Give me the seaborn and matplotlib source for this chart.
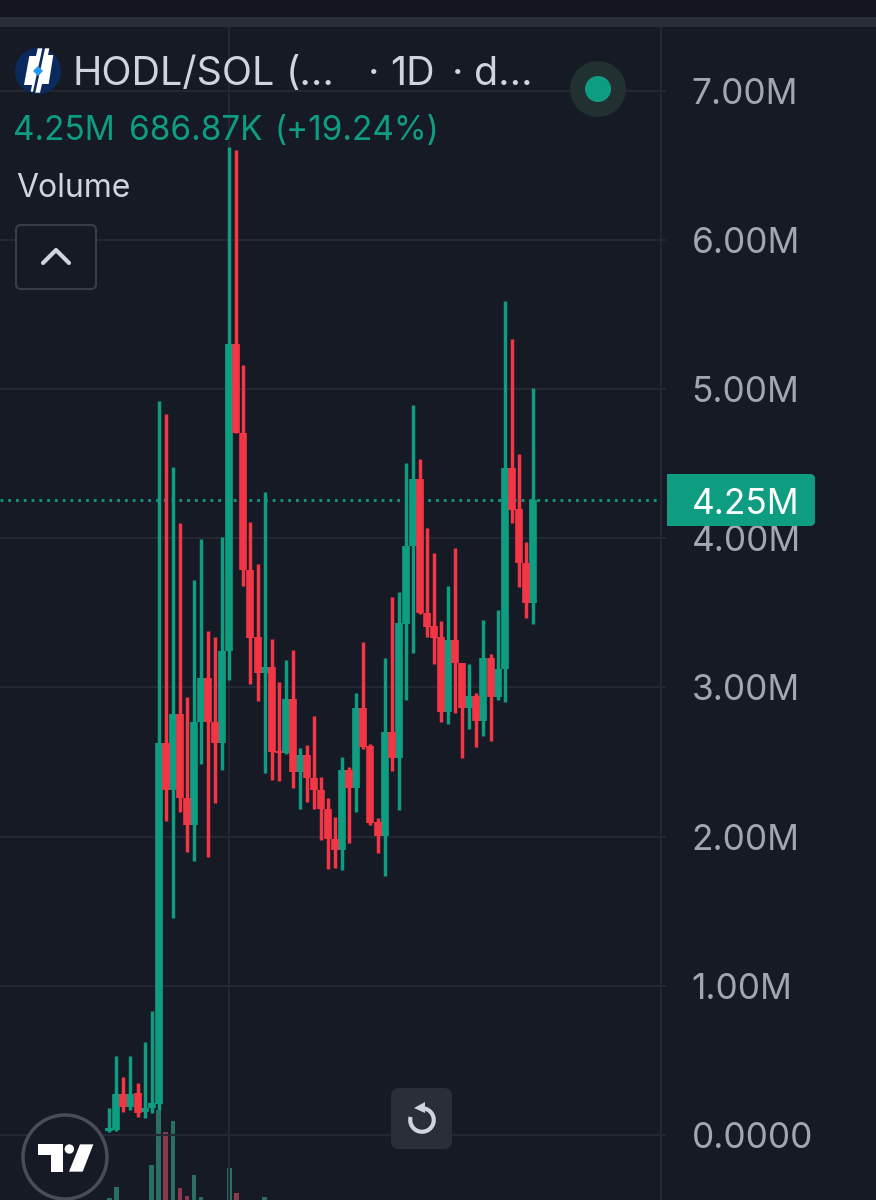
import numpy as np
import pandas as pd
import seaborn as sns
import matplotlib.pyplot as plt
from matplotlib.patches import Arc, Circle, FancyBboxPatch, Polygon, Rectangle

# candles, values in millions
opens = [0.027, 0.034, 0.275, 0.188, 0.281, 0.154, 0.181, 0.208, 2.627, 2.312,
         2.822, 2.259, 2.078, 2.768, 3.063, 2.768, 2.627, 3.244, 5.301, 4.705,
         3.787, 3.338, 3.096, 3.136, 2.574, 2.560, 2.922, 2.433, 2.547, 2.393,
         2.312, 2.185, 1.984, 1.910, 2.446, 2.326, 2.862, 2.607, 2.098, 2.004,
         2.701, 2.527, 3.425, 3.947, 4.397, 3.498, 3.411, 3.338, 2.835, 3.318,
         3.163, 2.862, 2.942, 2.775, 3.197, 2.935, 3.123, 4.470, 4.195, 3.834,
         3.565]
closes = [0.047, 0.275, 0.188, 0.275, 0.147, 0.181, 0.214, 2.627, 2.312, 2.822,
          2.259, 2.078, 2.768, 3.063, 2.768, 2.627, 3.244, 5.301, 4.705, 3.787,
          3.331, 3.096, 3.136, 2.567, 2.560, 2.922, 2.433, 2.547, 2.393, 2.312,
          2.185, 1.984, 1.910, 2.446, 2.326, 2.862, 2.600, 2.091, 2.004, 2.701,
          2.527, 3.431, 3.947, 4.397, 3.498, 3.405, 3.331, 2.835, 3.318, 3.163,
          2.862, 2.942, 2.775, 3.197, 2.935, 3.123, 4.470, 4.189, 3.834, 3.565,
          4.256]
highs = [0.181, 0.529, 0.389, 0.529, 0.349, 0.623, 0.831, 4.919, 4.832, 4.477,
         4.102, 2.935, 3.720, 3.994, 3.378, 3.338, 4.008, 6.622, 6.601, 5.160,
         4.108, 3.827, 4.309, 3.324, 3.036, 3.183, 3.250, 2.594, 2.614, 2.808,
         2.399, 2.259, 2.131, 2.533, 2.466, 2.962, 3.304, 2.620, 2.125, 3.197,
         3.606, 3.639, 4.504, 4.892, 4.531, 4.068, 3.901, 3.445, 3.679, 3.934,
         3.163, 3.157, 2.962, 3.452, 3.224, 3.519, 5.590, 5.335, 4.564, 3.974,
         5.006]
lows = [0.020, 0.027, 0.154, 0.168, 0.121, 0.114, 0.147, 0.168, 2.104, 1.454,
        2.165, 1.897, 1.836, 2.486, 1.863, 2.225, 2.446, 3.049, 4.705, 3.679,
        3.023, 2.909, 2.426, 2.379, 2.372, 2.553, 2.326, 2.185, 2.232, 2.185,
        1.977, 1.783, 1.789, 1.776, 1.957, 2.165, 2.587, 2.078, 1.890, 1.736,
        2.439, 2.178, 2.915, 3.230, 3.492, 3.338, 3.157, 2.768, 2.755, 2.828,
        2.527, 2.721, 2.600, 2.674, 2.641, 2.915, 2.902, 4.102, 3.673, 3.465,
        3.425]

# only the tops of the volume bars show above the bottom edge
volume_days = [0, 1, 6, 7, 8, 9, 10, 11, 12, 13, 17, 18, 22]
volume_vals = [2, 13, 35, 90, 68, 79, 12, 4, 25, 3, 32, 7, 3]
volume_dirs = ['up', 'up', 'up', 'up', 'down', 'up', 'down', 'down', 'up', 'up', 'up', 'down', 'up']

price_ticks = [0, 1, 2, 3, 4, 5, 6, 7]
price_labels = ['0.0000', '1.00M', '2.00M', '3.00M', '4.00M', '5.00M', '6.00M', '7.00M']
last_price = 4.256

BG = '#161a25'
GRID = '#242833'
GREEN = '#0f9d82'
RED = '#f23645'
TEXT = '#d1d4dc'
AXIS_TEXT = '#a3a6af'

sns.set_theme(style='dark')
plt.rcParams['font.family'] = ['Inter', 'DejaVu Sans']

days = list(range(len(opens)))
dirs = ['up' if c >= o else 'down' for o, c in zip(opens, closes)]
candles = pd.DataFrame({'day': days, 'open': opens, 'close': closes,
                        'high': highs, 'low': lows, 'dir': dirs})
wicks = candles.melt(id_vars=['day', 'dir'], value_vars=['high', 'low'], value_name='price')
bodies = candles.melt(id_vars=['day', 'dir'], value_vars=['open', 'close'], value_name='price')
volume = pd.DataFrame({'day': volume_days, 'vol': volume_vals, 'dir': volume_dirs})

fig = plt.figure(figsize=(8.76, 12), dpi=100, facecolor=BG)
ax = fig.add_axes([0, 0, 661 / 876, 1])
ax2 = ax.twinx()
ax.set_zorder(ax2.get_zorder() + 1)
ax.patch.set_visible(False)
ax2.set_facecolor(BG)

sns.barplot(data=volume, x='day', y='vol', hue='dir', hue_order=['up', 'down'],
            palette={'up': '#2a6f64', 'down': '#8a3a4c'}, native_scale=True, dodge=False,
            width=0.65, legend=False, ax=ax2, saturation=1, edgecolor='none', linewidth=0)
ax2.set_ylim(0, 1200)
ax2.set_yticks([])
ax2.set_ylabel('')

palette = {'up': GREEN, 'down': RED}
for frame, lw in [(wicks, 2.5), (bodies, 5.5)]:
    sns.lineplot(data=frame, x='day', y='price', units='day', hue='dir', hue_order=['up', 'down'],
                 palette=palette, estimator=None, linewidth=lw, legend=False, ax=ax,
                 solid_capstyle='butt')

ax.axhline(last_price, color=GREEN, lw=2, linestyle=(0, (1, 1.8)), dash_capstyle='butt', zorder=1)

ax.set_xlim(-15.48, 78.15)
ax.set_ylim(-0.4357, 7.607)
ax.set_xlabel('')
ax.set_ylabel('')
ax.set_xticks([17])
ax.set_xticklabels([''])
ax.set_yticks(price_ticks)
ax.set_yticklabels(price_labels)
ax.yaxis.tick_right()
ax.tick_params(axis='y', length=3.5, width=1.4, color=GRID, labelcolor=AXIS_TEXT,
               labelsize=25.4, pad=18.5)
ax.tick_params(axis='x', length=0)
ax.grid(True, color=GRID, lw=1.5)
ax.set_axisbelow(True)
for name, spine in ax.spines.items():
    spine.set_visible(name == 'right')
    spine.set_color(GRID)
    spine.set_linewidth(1.5)
for spine in ax2.spines.values():
    spine.set_visible(False)

# app chrome on top of the chart, in pixel coordinates
ui = fig.add_axes([0, 0, 1, 1], zorder=10)
ui.set_xlim(0, 876)
ui.set_ylim(1200, 0)
ui.axis('off')

ui.add_patch(Rectangle((0, 0), 876, 17, color='#131620', lw=0))
ui.add_patch(Rectangle((0, 17), 876, 10, color='#2a2e39', lw=0))

# price tag
ui.add_patch(FancyBboxPatch((672, 479), 138, 42, boxstyle='round,pad=5,rounding_size=5', color=GREEN, lw=0))
ui.add_patch(Rectangle((667, 474), 12, 52, color=GREEN, lw=0))
ui.text(692, 501, '4.25M', color='white', fontsize=25.4, va='center_baseline', ha='left')

# header
logo_x = lambda x: x / 3
logo_y = lambda y: 40 + y / 3
ui.add_patch(Circle((38, 71), 23, color='#0a2a5e', lw=0))
left_half = [(88, 48), (108, 48), (113, 25), (127, 25), (99, 155), (92, 155), (96, 135), (72, 135)]
right_half = [(135, 25), (148, 25), (144, 45), (160, 45), (146, 132), (126, 132), (120, 158), (106, 158)]
for pts in (left_half, right_half):
    ui.add_patch(Polygon([(logo_x(x), logo_y(y)) for x, y in pts], color='white', lw=0))
ui.add_patch(Polygon([(38, 66), (43, 71), (38, 76), (33, 71)], color='#2196f3', lw=0))

title_parts = [(73, 'HODL/SOL'), (286, '(...'), (368, '·'), (390, '1D'), (452, '·'), (474, 'd...')]
for x, s in title_parts:
    ui.text(x, 85, s, color=TEXT, fontsize=28.4, va='baseline', ha='left')

ui.add_patch(Circle((598, 89), 28, color='#213030', lw=0))
ui.add_patch(Circle((598, 89), 13, color=GREEN, lw=0))

for x, s in [(13, '4.25M'), (129, '686.87K'), (275, '(+19.24%)')]:
    ui.text(x, 140, s, color=GREEN, fontsize=24, va='baseline', ha='left')
ui.text(16, 197, 'Volume', color=TEXT, fontsize=23, va='baseline', ha='left')

# collapse button
ui.add_patch(FancyBboxPatch((20, 229), 72, 56, boxstyle='round,pad=4,rounding_size=5',
                            fc=BG, ec='#3a3d48', lw=1.5))
ui.plot([43, 56, 69], [263, 250, 263], color=TEXT, lw=3, solid_capstyle='round')

# reset button
ui.add_patch(FancyBboxPatch((397, 1094), 49, 49, boxstyle='round,pad=6,rounding_size=8', color='#2a2e39', lw=0))
ui.add_patch(Arc((422, 1120), 23.5, 23.5, theta1=-90, theta2=195, color=TEXT, lw=3))
ui.add_patch(Polygon([(425, 1102), (414, 1108), (425, 1113)], color=TEXT, lw=0))

# TradingView badge
ui.add_patch(Circle((65, 1157), 42, fc=BG, ec='#4a4d57', lw=2.5))
tv_x = lambda x: x / 3
tv_y = lambda y: 1080 + y / 3
tv_t = [(115, 193), (190, 193), (190, 275), (152, 275), (152, 225), (115, 225)]
tv_s = [(240, 193), (280, 193), (248, 275), (207, 275)]
for pts in (tv_t, tv_s):
    ui.add_patch(Polygon([(tv_x(x), tv_y(y)) for x, y in pts], color='white', lw=0))
ui.add_patch(Circle((tv_x(208), tv_y(207)), 4.7, color='white', lw=0))

fig.savefig('out.png', dpi=100, facecolor=BG)
